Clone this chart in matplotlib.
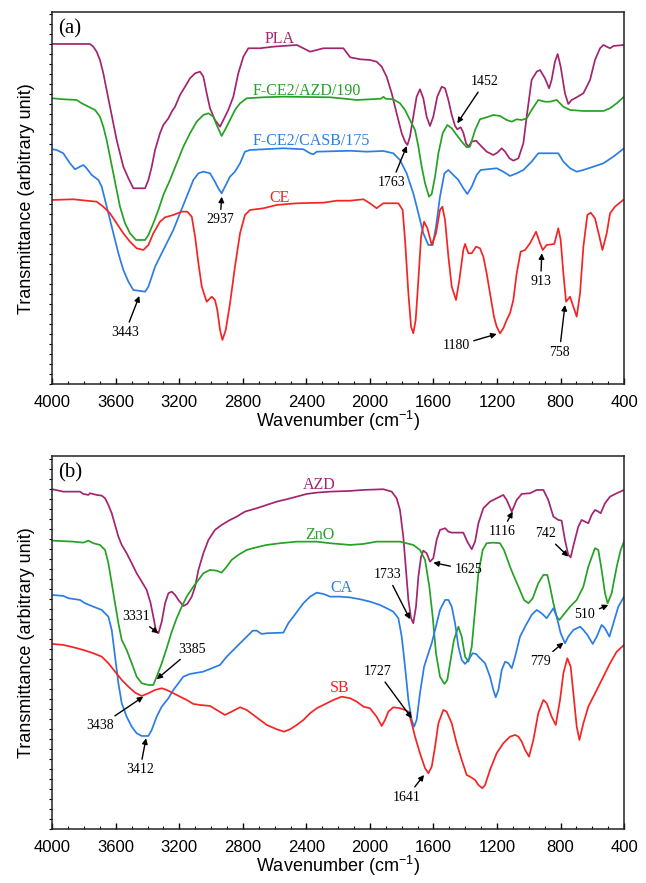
import matplotlib
matplotlib.use("Agg")
import matplotlib.pyplot as plt
from matplotlib.ticker import MultipleLocator

# ---------------- panel (a) ----------------
pla_wn = [4000, 3763, 3742, 3721, 3700, 3679, 3658, 3637, 3616, 3595, 3574, 3553, 3521, 3490, 3416,
          3395, 3374, 3353, 3322, 3301, 3269, 3248, 3227, 3196, 3164, 3133, 3101, 3070, 3049, 3028,
          3007, 2976, 2944, 2923, 2892, 2860, 2829, 2797, 2766, 2692, 2608, 2461, 2419, 2377, 2335,
          2293, 2167, 2125, 2062, 2000, 1958, 1926, 1895, 1863, 1832, 1800, 1779, 1764, 1748, 1727,
          1706, 1685, 1664, 1643, 1622, 1601, 1576, 1548, 1527, 1506, 1485, 1464, 1450, 1429, 1412,
          1395, 1380, 1359, 1332, 1296, 1265, 1223, 1198, 1170, 1149, 1122, 1097, 1065, 1034, 1013,
          982, 950, 929, 898, 872, 856, 835, 818, 799, 772, 751, 730, 698, 656, 614,
          583, 551, 530, 509, 488, 467, 400]
pla_t = [340.3, 340.3, 337.6, 332.6, 324.3, 311, 294.3, 277.6, 261, 244.3, 231, 217.6, 206, 196, 196,
         204.3, 217.6, 234.3, 251, 259.3, 266, 272.6, 277.6, 289.3, 297.6, 306, 311, 312.6, 307.6, 291,
         276, 264.3, 257.6, 264.3, 274.3, 287.6, 311, 327.6, 336, 336, 337.6, 339.3, 336, 332.6, 334.3,
         336, 336, 327, 325, 324.3, 322.6, 317.6, 307.6, 291, 271, 251, 242.6, 239.3, 247.6, 267.6,
         287.6, 295, 286, 267.6, 258.3, 267.6, 287.6, 297.6, 296, 284.3, 269.3, 258.3, 255, 257, 251.6,
         241, 237.6, 242.6, 243.6, 237.6, 232.6, 229.3, 231.6, 236, 232.6, 226, 223.6, 226, 241, 267.6,
         304.3, 312.6, 314.3, 306, 296, 304.3, 322.6, 330.3, 317.6, 291, 280.3, 284.3, 287, 291, 304.3,
         324.3, 336, 339.3, 337.6, 336, 338.3, 339.3]

azd190_wn = [4000, 3930, 3847, 3815, 3773, 3731, 3700, 3679, 3658, 3637, 3616, 3595, 3574, 3542, 3511,
             3473, 3416, 3395, 3364, 3332, 3301, 3259, 3217, 3175, 3133, 3091, 3049, 3017, 2986, 2965,
             2934, 2913, 2881, 2850, 2818, 2776, 2671, 2545, 2251, 2125, 2083, 2000, 1930, 1915, 1900,
             1853, 1811, 1779, 1748, 1716, 1695, 1674, 1653, 1628, 1611, 1590, 1569, 1542, 1513, 1485,
             1454, 1422, 1391, 1370, 1338, 1307, 1265, 1223, 1181, 1139, 1107, 1076, 1044, 1013, 982,
             940, 898, 866, 824, 782, 740, 656, 530, 488, 446, 400]
azd190_t = [286, 285, 284.3, 281, 277.6, 274.3, 267.6, 257.6, 244.3, 227.6, 211, 194.3, 177.6, 161, 151,
            144.3, 144.3, 149.3, 161, 174.3, 189.3, 204.3, 221, 237.6, 251, 262.6, 269.3, 271, 267.6, 259.3,
            248.3, 254.3, 264.3, 274.3, 281, 286, 287, 287.6, 287, 285, 284.3, 285, 285.6, 287.5, 285.5,
            285, 281, 274.3, 264.3, 254.3, 237.6, 217.6, 201, 187.6, 190.3, 207.6, 231, 251, 259.3, 256,
            249.3, 242.6, 237, 237.6, 254.3, 265, 267, 269.3, 268.3, 264.3, 262.6, 265, 264.3, 266, 274.3,
            284.3, 282.6, 282.6, 284.3, 277.6, 274.3, 273.3, 273.3, 276, 281, 287.6]

casb_wn = [4000, 3973, 3931, 3889, 3857, 3826, 3805, 3784, 3752, 3710, 3689, 3668, 3647, 3626, 3605,
           3584, 3553, 3521, 3490, 3416, 3395, 3374, 3353, 3322, 3280, 3238, 3196, 3154, 3112, 3080,
           3049, 3007, 2976, 2955, 2934, 2913, 2881, 2850, 2818, 2787, 2755, 2545, 2419, 2377, 2356,
           2335, 2125, 2021, 1916, 1853, 1811, 1769, 1727, 1695, 1664, 1632, 1605, 1584, 1559, 1531,
           1506, 1475, 1443, 1412, 1387, 1359, 1328, 1303, 1202, 1160, 1118, 1076, 1034, 982, 940,
           814, 782, 740, 698, 656, 593, 530, 467, 400]
casb_t = [235, 234.3, 231, 221, 215, 217.6, 219.3, 216, 209.3, 204.3, 197.6, 184.3, 171, 157.6, 144.3,
          131, 114.3, 102.6, 94.3, 92.6, 97.6, 107.6, 117.6, 127.6, 141, 154.3, 171, 187.6, 204.3, 211,
          212.6, 211, 202.6, 196, 191, 197.6, 207.6, 212.6, 221, 232.6, 234.3, 236, 235, 231, 230,
          232.6, 233.5, 232.6, 233.3, 231, 224.3, 211, 191, 171, 151, 139.3, 139.3, 157.6, 187.6, 211,
          214.3, 209.3, 204.3, 196, 190.3, 197.6, 209.3, 214.3, 216, 212.6, 208.3, 211, 214.3, 222.6, 231,
          231, 222.6, 216, 212.6, 214.3, 217.6, 221, 227.6, 236]

ce_wn = [4000, 3868, 3784, 3721, 3679, 3637, 3595, 3553, 3511, 3469, 3427, 3395, 3364, 3322, 3290,
         3238, 3185, 3150, 3122, 3101, 3080, 3059, 3028, 2996, 2976, 2961, 2944, 2929, 2908, 2881,
         2850, 2818, 2787, 2755, 2671, 2587, 2461, 2293, 2209, 2125, 2041, 2000, 1958, 1916, 1821,
         1794, 1779, 1758, 1741, 1727, 1712, 1695, 1678, 1659, 1638, 1611, 1584, 1559, 1544, 1527,
         1506, 1485, 1458, 1437, 1412, 1401, 1380, 1359, 1332, 1307, 1286, 1265, 1244, 1219, 1202,
         1181, 1160, 1139, 1118, 1097, 1076, 1051, 1023, 992, 954, 929, 912, 887, 839, 814,
         799, 782, 765, 740, 719, 698, 677, 656, 631, 610, 583, 555, 536, 509, 488,
         457, 400]
ce_t = [184.3, 185, 183.6, 182.6, 177.6, 171, 161, 151, 142.6, 136, 134.3, 139.3, 151, 162.6, 167,
        169.3, 172.6, 172.6, 167.6, 147.6, 121, 97.6, 82.6, 87.6, 84.3, 74.3, 54.3, 44.3, 54.3, 81,
        117.6, 151, 169.3, 174.3, 176, 179.3, 181, 181.6, 183.6, 183.6, 185, 181, 176, 181, 181,
        174.3, 144.3, 91, 57.6, 51, 64.3, 104.3, 147.6, 162.6, 156, 139.3, 151, 174.3, 177.6, 164.3,
        127.6, 97.6, 84.3, 104.3, 134.3, 140.3, 131, 131, 137.6, 136, 127.6, 111, 91, 67.6, 57.6,
        51, 56, 64.3, 71, 84.3, 111, 132.6, 134.3, 141, 152.6, 141, 134.3, 139.3, 140.3, 156,
        144.3, 111, 82.6, 87.6, 77.6, 67.6, 91, 137.6, 169.3, 171.6, 166, 147.6, 134.3, 151, 171,
        177.6, 185]

# ---------------- panel (b) ----------------
azd_wn = [4000, 3931, 3826, 3805, 3773, 3763, 3721, 3689, 3668, 3647, 3626, 3605, 3584, 3563, 3532,
          3500, 3469, 3437, 3406, 3381, 3360, 3347, 3332, 3311, 3290, 3269, 3248, 3227, 3206, 3175,
          3150, 3122, 3101, 3080, 3049, 3017, 2976, 2934, 2881, 2839, 2787, 2713, 2650, 2587, 2524,
          2461, 2398, 2335, 2251, 2125, 2041, 1916, 1863, 1832, 1811, 1790, 1773, 1758, 1741, 1727,
          1710, 1695, 1678, 1664, 1643, 1622, 1601, 1580, 1559, 1527, 1506, 1485, 1412, 1387, 1359,
          1338, 1317, 1286, 1244, 1202, 1160, 1139, 1107, 1076, 1044, 992, 950, 908, 877, 845,
          814, 793, 772, 751, 736, 715, 688, 667, 646, 625, 604, 583, 562, 547, 520,
          488, 446, 400]
azd_t = [339.7, 337.3, 337.3, 335, 334, 335.7, 334, 333.3, 330.7, 324, 315.7, 304, 292.3, 284, 275.7,
         265.7, 255.7, 247.3, 239, 225.7, 209, 197.3, 195.7, 207.3, 225.7, 235.7, 237.3, 234, 229, 223,
         225, 232.3, 242.3, 259, 275.7, 289, 299, 304, 309, 312.3, 317.3, 320.7, 324, 327.3, 329.7,
         332.3, 335, 336.3, 337.3, 338, 339, 339.7, 337.3, 330.7, 319, 292.3, 259, 229, 210.7, 205.7,
         222.3, 252.3, 272.3, 278.3, 275.7, 267.3, 270.7, 289, 299, 300.7, 297.3, 296.3, 296.3, 287.3, 279.7,
         287.3, 305.7, 320.7, 327.3, 330.7, 334, 329, 317.3, 329, 335, 335.7, 339, 339, 329, 312.3,
         309, 308.3, 289, 274, 271.7, 285.7, 302.3, 309, 307.3, 305.7, 314, 319, 317.3, 315.7, 325.7,
         332.3, 335.7, 339]

zno_wn = [4000, 3868, 3805, 3773, 3742, 3700, 3668, 3647, 3626, 3605, 3584, 3563, 3532, 3500, 3469,
          3437, 3395, 3364, 3343, 3311, 3280, 3248, 3217, 3185, 3154, 3112, 3080, 3049, 3007, 2965,
          2934, 2902, 2871, 2829, 2776, 2713, 2650, 2566, 2461, 2335, 2251, 2125, 2041, 1958, 1811,
          1727, 1685, 1653, 1626, 1605, 1584, 1559, 1531, 1513, 1492, 1471, 1443, 1422, 1401, 1380,
          1359, 1338, 1317, 1290, 1265, 1223, 1181, 1156, 1118, 1097, 1065, 1030, 1002, 975, 940,
          908, 883, 866, 845, 824, 807, 782, 740, 698, 656, 625, 583, 562, 541, 520,
          503, 478, 446, 421, 400]
zno_t = [288.3, 287.3, 286.3, 288.3, 285.7, 284, 279, 265.7, 245.7, 225.7, 205.7, 189, 179, 165.7, 152.3,
         145.7, 144, 144, 152.3, 165.7, 180.7, 197.3, 210.7, 222.3, 232.3, 242.3, 249, 255.7, 259, 258.3,
         256.3, 262.3, 269, 274, 279, 281.7, 284, 285.7, 287.3, 287.3, 285.7, 284, 285, 287.3, 287.3,
         284, 279, 269, 242.3, 212.3, 175.7, 152.3, 145, 149, 169, 189, 202.3, 192.3, 172.3, 167.3,
         182.3, 219, 255.7, 279, 285.7, 286.3, 285.7, 279, 262.3, 254, 242.3, 229, 225.7, 230.7, 245.7,
         254, 254, 242.3, 225.7, 212.3, 209, 214, 222.3, 229, 242.3, 262.3, 280.7, 279, 259, 235.7,
         225.7, 235.7, 262.3, 279, 287.3]

ca_wn = [4000, 3931, 3899, 3826, 3794, 3742, 3689, 3647, 3626, 3605, 3584, 3563, 3532, 3500, 3469,
         3437, 3395, 3374, 3343, 3311, 3269, 3238, 3206, 3175, 3133, 3049, 2996, 2944, 2902, 2860,
         2818, 2776, 2738, 2713, 2682, 2650, 2545, 2514, 2482, 2451, 2419, 2377, 2335, 2293, 2251,
         2188, 2125, 2062, 2000, 1937, 1895, 1853, 1821, 1800, 1779, 1758, 1737, 1722, 1706, 1685,
         1659, 1632, 1611, 1590, 1559, 1527, 1506, 1485, 1464, 1443, 1422, 1401, 1380, 1353, 1332,
         1307, 1275, 1244, 1223, 1208, 1191, 1170, 1149, 1128, 1107, 1086, 1055, 1023, 982, 950,
         919, 887, 866, 845, 824, 799, 772, 751, 719, 677, 656, 631, 597, 572, 541,
         520, 492, 467, 436, 400]
ca_t = [234, 233, 230.7, 229, 225.7, 222.3, 219, 212.3, 199, 172.3, 145.7, 125.7, 112.3, 102.3, 95.7,
        93, 93, 99, 112.3, 122.3, 130.7, 139, 145.7, 152.3, 155, 157.3, 160.7, 164, 172.3, 179,
        185.7, 192.3, 198.3, 198.3, 195, 195.7, 196.3, 205.7, 212.3, 219, 225.7, 232.3, 236.3, 235, 232.3,
        232.3, 231.5, 229.7, 227.3, 224, 220.7, 217.3, 210.7, 192.3, 162.3, 129, 109, 102.3, 109, 135.7,
        162.3, 175.7, 185.7, 199, 219, 229, 229, 222.3, 205.7, 182.3, 169, 165, 169, 175.7, 175,
        170.7, 165.7, 152.3, 139, 131.7, 139, 159, 167.3, 165.7, 160.7, 172.3, 192.3, 202.3, 214, 219,
        215.7, 210.7, 215.7, 220.7, 212.3, 195.7, 185.7, 192.3, 199, 202.3, 199, 194, 185, 192.3, 204,
        200.7, 192.3, 205.7, 222.3, 232.3]

sb_wn = [4000, 3931, 3868, 3805, 3742, 3689, 3647, 3605, 3563, 3521, 3479, 3437, 3395, 3353, 3311,
         3280, 3238, 3196, 3154, 3112, 3070, 3007, 2965, 2913, 2871, 2818, 2776, 2734, 2692, 2650,
         2587, 2541, 2503, 2461, 2419, 2377, 2335, 2293, 2230, 2178, 2125, 2083, 2041, 2000, 1958,
         1926, 1905, 1884, 1853, 1811, 1779, 1758, 1737, 1716, 1685, 1653, 1632, 1611, 1590, 1569,
         1538, 1517, 1485, 1454, 1422, 1391, 1370, 1338, 1317, 1292, 1275, 1244, 1202, 1160, 1118,
         1086, 1065, 1044, 1023, 998, 971, 940, 908, 887, 856, 830, 803, 782, 757, 736,
         719, 698, 681, 656, 625, 572, 530, 488, 446, 400]
sb_t = [185, 184, 181.7, 179, 175.7, 172.3, 165.7, 157.3, 149, 142.3, 136.3, 133, 135.7, 139, 140.7,
        139, 135.7, 132.3, 129, 125, 124, 123, 119, 114, 117.3, 121.7, 119, 114, 109, 104,
        99.7, 97.3, 99.7, 104, 109, 115.7, 120.7, 124, 129, 132.3, 130.7, 127.3, 122.3, 120.7, 112.3,
        103, 109, 117.3, 121.7, 120.7, 119, 117.3, 105.7, 92.3, 75.7, 60.7, 55.7, 62.3, 82.3, 105.7,
        119, 117.3, 105.7, 85.7, 69, 54, 52.3, 49, 44, 40.7, 44, 59, 75.7, 85.7, 92.3,
        94, 92.3, 87.3, 79, 72.3, 89, 115.7, 129, 125.7, 112.3, 104, 129, 155.7, 170.7, 162.3,
        135.7, 102.3, 89, 105.7, 122.3, 139, 152.3, 165.7, 177.3, 184]

# label, text position (wn, T), arrow tip (wn, T)
peaks_a = [("3443", (3542, 51.6), (3452, 88.3)),
           ("2937", (2944, 164.3), (2933, 187.6)),
           ("1763", (1863, 201.6), (1768, 238.3)),
           ("1452", (1275, 302.6), (1450, 261)),
           ("1180", (1458, 38.3), (1202, 50.3)),
           ("913", (925, 102.6), (918, 131)),
           ("758", (807, 32), (772, 79.3))]
peaks_b = [("3331", (3473, 212.3), (3332, 195.7)),
           ("3385", (3118, 179.7), (3343, 149.7)),
           ("3438", (3700, 103), (3427, 132.3)),
           ("3412", (3448, 59), (3410, 90.7)),
           ("1733", (1890, 254), (1748, 209.7)),
           ("1625", (1380, 259), (1601, 266.3)),
           ("1116", (1170, 297.3), (1101, 317.3)),
           ("742", (897, 295), (751, 272.3)),
           ("510", (646, 214), (499, 224)),
           ("779", (925, 167.3), (782, 186.3)),
           ("1727", (1953, 157.3), (1737, 110.7)),
           ("1641", (1769, 31.7), (1659, 54))]

PURPLE = "#a3246f"
GREEN = "#25a125"
BLUE = "#2b7de6"
RED = "#f42424"

series_a = [(pla_wn, pla_t, PURPLE, "PLA", 2566, 341),
            (azd190_wn, azd190_t, GREEN, "F-CE2/AZD/190", 2400, 289.5),
            (casb_wn, casb_t, BLUE, "F-CE2/CASB/175", 2370, 239),
            (ce_wn, ce_t, RED, "CE", 2566, 182)]
series_b = [(azd_wn, azd_t, PURPLE, "AZD", 2318, 339.5),
            (zno_wn, zno_t, GREEN, "ZnO", 2314, 289.5),
            (ca_wn, ca_t, BLUE, "CA", 2180, 236.5),
            (sb_wn, sb_t, RED, "SB", 2190, 136.5)]

SERIF = "Liberation Serif"
SANS = "Liberation Sans"
plt.rcParams["font.family"] = SANS
plt.rcParams["mathtext.fontset"] = "custom"
plt.rcParams["mathtext.rm"] = SANS

fig = plt.figure(figsize=(6.46, 8.83), dpi=100)
ax1 = fig.add_axes([0.0810, 0.5648, 0.8850, 0.4213])
ax2 = fig.add_axes([0.0810, 0.0612, 0.8850, 0.4228])


def draw_panel(ax, series, peaks, letter, ytop):
    for wn, t, col, name, lx, ly in series:
        ax.plot(wn, t, color=col, lw=1.25)
        ax.text(lx, ly, name, color=col, fontsize=11.5, family=SERIF,
                ha="center", va="baseline")
    for lab, txy, tip in peaks:
        ax.annotate(lab, xy=tip, xytext=txy, fontsize=10, family=SERIF,
                    ha="center", va="center",
                    arrowprops=dict(arrowstyle="-|>", color="black", lw=1.0,
                                    mutation_scale=8, shrinkA=1, shrinkB=0))
    ax.text(3888, ytop - 17, letter, fontsize=15, family=SERIF, ha="center", va="center")
    ax.set_xlim(4000, 400)
    ax.set_ylim(0, ytop)
    ax.xaxis.set_major_locator(MultipleLocator(400))
    ax.xaxis.set_minor_locator(MultipleLocator(100))
    ax.yaxis.set_major_locator(MultipleLocator(10))
    ax.tick_params(axis="x", which="major", direction="in", length=4, width=1,
                   labelsize=12, pad=8, top=False)
    ax.tick_params(axis="x", which="minor", direction="in", length=2.5, width=0.8, top=False)
    ax.tick_params(axis="y", which="major", direction="out", length=2.5, width=0.8,
                   labelleft=False, right=False)
    for s in ax.spines.values():
        s.set_linewidth(1.1)
        s.set_color("#222222")
    ax.set_xlabel("Wavenumber (cm$^{\\mathregular{-1}}$)", fontsize=13, labelpad=-1)
    ax.set_ylabel("Transmittance (arbitrary unit)", fontsize=13, labelpad=10)


draw_panel(ax1, series_a, peaks_a, "(a)", 372)
draw_panel(ax2, series_b, peaks_b, "(b)", 373.3)

fig.savefig("out.png", dpi=100)
